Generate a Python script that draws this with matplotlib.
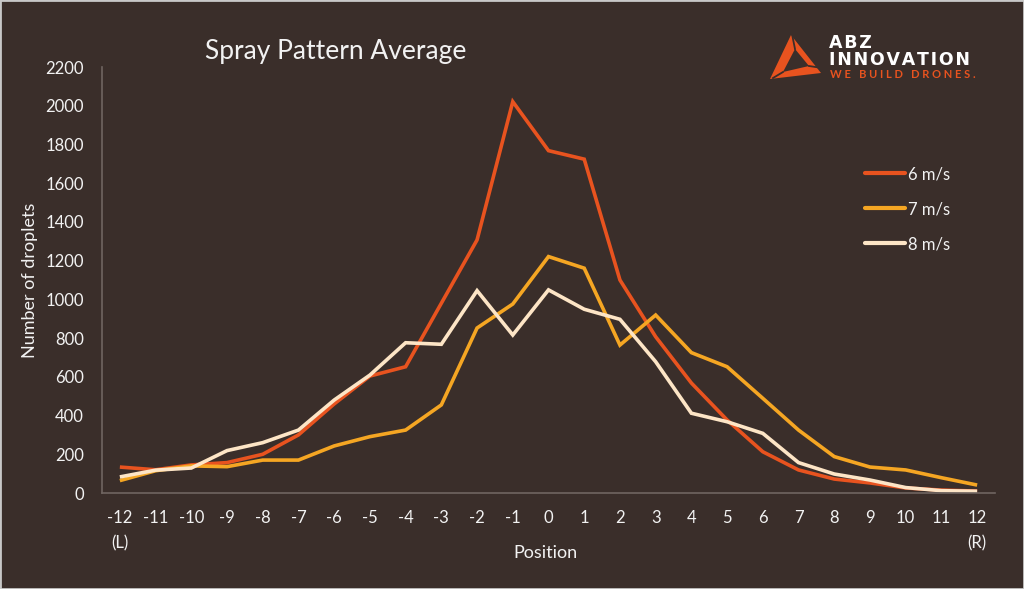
import numpy as np
import matplotlib.pyplot as plt
from matplotlib.patches import Polygon, Rectangle

# Spray pattern averages, droplets per position
positions = list(range(-12, 13))
tick_labels = ['-12\n(L)'] + [str(p) for p in range(-11, 12)] + ['12\n(R)']
series_names = ['6 m/s', '7 m/s', '8 m/s']
speed_6 = [134, 120, 145, 157, 200, 300, 460, 604, 652, 980, 1307, 2021, 1768, 1724,
           1100, 807, 568, 377, 213, 119, 72, 52, 26, 15, 10]
speed_7 = [64, 115, 140, 136, 170, 170, 243, 291, 325, 455, 852, 976, 1221, 1161,
           764, 919, 725, 652, 489, 325, 188, 134, 119, 79, 41]
speed_8 = [83, 118, 129, 219, 260, 325, 480, 609, 776, 768, 1045, 816, 1049, 949,
           897, 678, 412, 368, 308, 157, 98, 67, 28, 12, 9]

BG = '#3a2e2a'
TXT = '#f2f2f2'
AXIS = '#6f6561'
ORANGE = '#e8531f'
colors = [ORANGE, '#f5a623', '#fde5c6']

plt.rcParams['font.family'] = ['Lato', 'DejaVu Sans']

W, H = 1024, 589
fig = plt.figure(figsize=(W / 100, H / 100), dpi=100, facecolor=BG)
ax = fig.add_axes([102 / W, 1 - 493 / H, (995 - 102) / W, (493 - 67) / H])
ax.set_facecolor(BG)

for vals, name, col in zip([speed_6, speed_7, speed_8], series_names, colors):
    ax.plot(positions, vals, color=col, linewidth=2.6, label=name,
            solid_joinstyle='miter', solid_capstyle='butt')

ax.set_xlim(-12.5, 12.5)
ax.set_ylim(0, 2200)
ax.set_yticks(np.arange(0, 2201, 200))
ax.set_xticks(positions)
ax.set_xticklabels(tick_labels)
for lab in ax.get_xticklabels():
    lab.set_linespacing(1.75)
ax.tick_params(axis='both', length=0, labelsize=12, labelcolor=TXT)
ax.tick_params(axis='y', pad=13)
ax.tick_params(axis='x', pad=12)
for s in ['top', 'right']:
    ax.spines[s].set_visible(False)
for s in ['left', 'bottom']:
    ax.spines[s].set_color(AXIS)
    ax.spines[s].set_linewidth(1.2)

fig.text(545 / W, 1 - 553 / H, 'Position', fontsize=13, color=TXT,
         ha='center', va='center')
fig.text(30 / W, 1 - 280 / H, 'Number of droplets', rotation=90, fontsize=13,
         color=TXT, ha='center', va='center')
fig.text(205 / W, 1 - 52 / H, 'Spray Pattern Average', fontsize=19, color=TXT,
         ha='left', va='center')

leg = ax.legend(loc='upper left', bbox_to_anchor=(850 / W, 1 - 151 / H),
                bbox_transform=fig.transFigure, frameon=False, fontsize=12,
                labelcolor=TXT, handlelength=2.4, handletextpad=0.15,
                labelspacing=1.15)
for line in leg.get_lines():
    line.set_linewidth(3.0)
    line.set_solid_capstyle('round')

# logo
def px(x, y):
    return (x / W, 1 - y / H)

tri_outer = [px(791, 35), px(770, 79), px(821, 73)]
tri_inner = [px(795, 49), px(783, 72), px(809, 66)]
fig.patches.append(Polygon(tri_outer, closed=True, facecolor=ORANGE,
                           edgecolor='none', transform=fig.transFigure))
fig.patches.append(Polygon(tri_inner, closed=True, facecolor=BG,
                           edgecolor='none', transform=fig.transFigure))
for a, b in [((795, 49), (792, 34)), ((809, 66), (822, 68)), ((783, 72), (773, 78))]:
    fig.lines.append(plt.Line2D([a[0] / W, b[0] / W], [1 - a[1] / H, 1 - b[1] / H],
                                color=BG, linewidth=1.3, transform=fig.transFigure))
hs = '\u200a'
fig.text(829 / W, 1 - 43 / H, hs.join('ABZ'), fontsize=12.5, fontweight='bold',
         color='white', ha='left', va='center', family='DejaVu Sans')
fig.text(829 / W, 1 - 60 / H, hs.join('INNOVATION'), fontsize=12.5, fontweight='bold',
         color='white', ha='left', va='center', family='DejaVu Sans')
fig.text(830 / W, 1 - 75 / H, 'W E   B U I L D   D R O N E S .', fontsize=8,
         fontweight='bold', color=ORANGE, ha='left', va='center')

# thin frame around the picture
fig.patches.append(Rectangle((0, 0), 1, 1, transform=fig.transFigure, fill=False,
                             edgecolor='#c8c8c8', linewidth=2.0))

fig.savefig('out.png', dpi=100, facecolor=BG)
